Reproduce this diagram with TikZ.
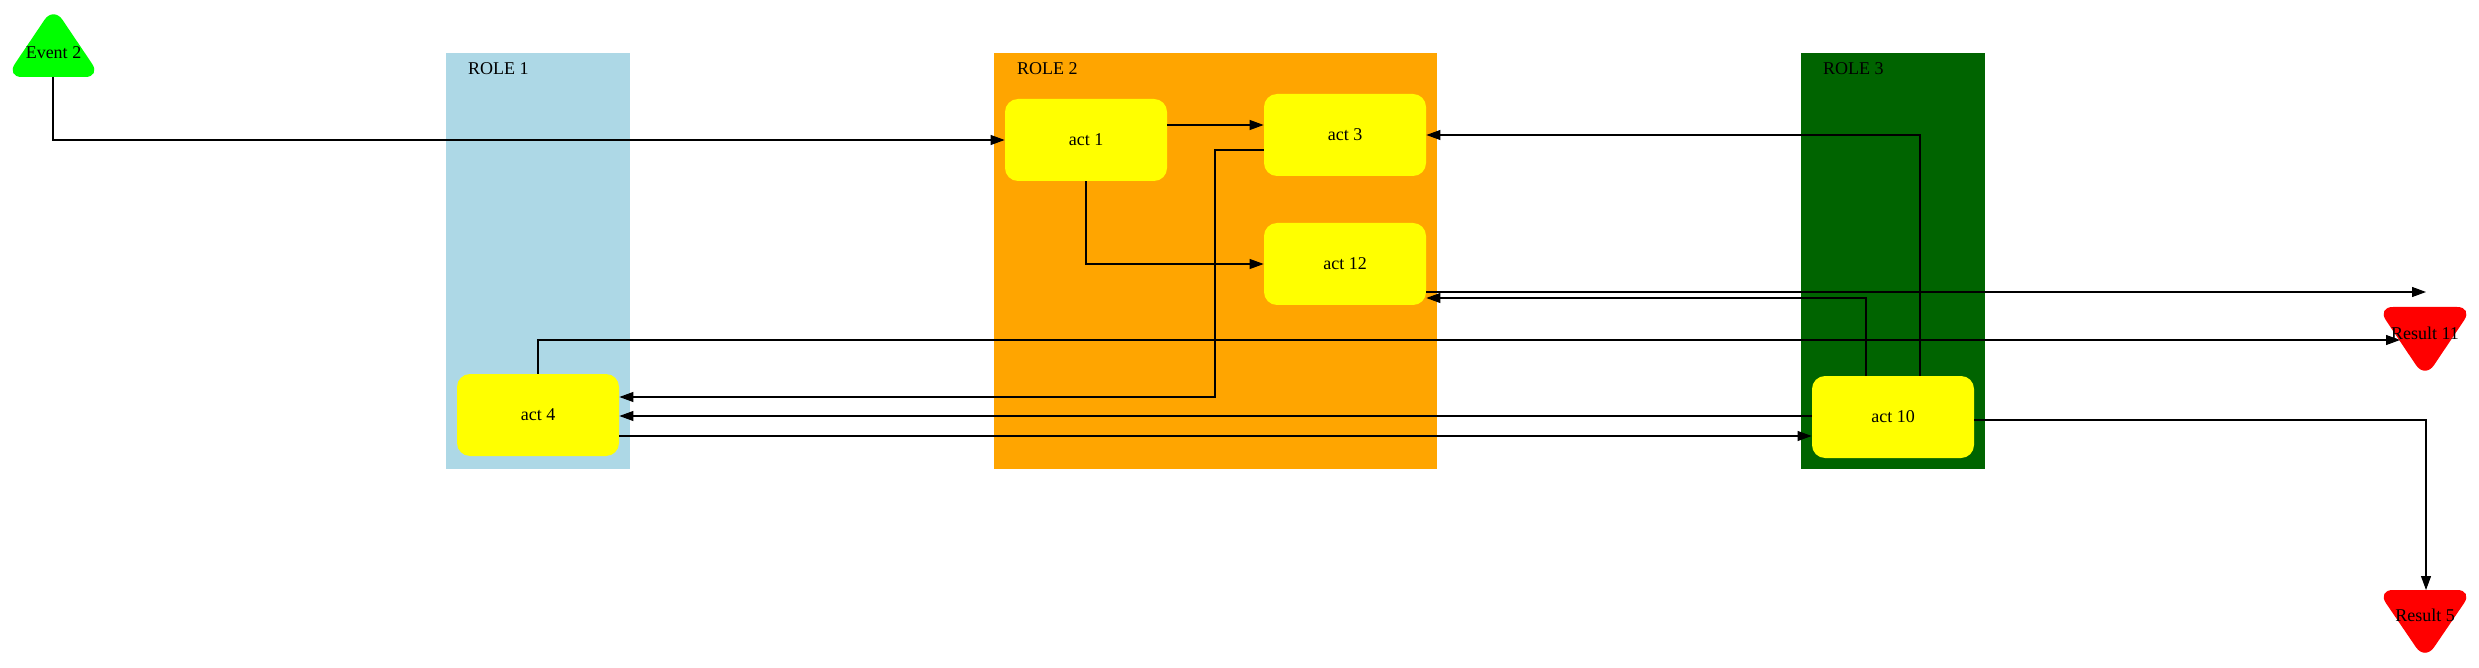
\documentclass[tikz,border=0pt]{standalone}
\usepackage{fontspec}
\setmainfont{Liberation Serif}
\usetikzlibrary{arrows.meta,fit}
\definecolor{lblue}{HTML}{ADD8E6}
\definecolor{orng}{HTML}{FFA500}
\definecolor{dgreen}{HTML}{006400}
\definecolor{gvgreen}{HTML}{00FF00}
\definecolor{gvyellow}{HTML}{FFFF00}
\definecolor{gvred}{HTML}{FF0000}
\tikzset{
  lane/.style={inner sep=0pt, draw=none},
  lanelabel/.style={anchor=west, inner sep=0pt, font=\fontsize{9}{11}\selectfont},
  act/.style={fill=gvyellow, rounded corners=6.5pt, minimum width=81pt, minimum height=41pt, inner sep=0pt, font=\fontsize{9}{11}\selectfont},
  lbl/.style={inner sep=0pt, font=\fontsize{9}{11}\selectfont},
  tri/.style={rounded corners=8pt},
  arr/.style={draw=black, line width=0.55pt, -{Triangle[length=7pt,width=5pt]}},
}
\begin{document}
\begin{tikzpicture}[x=0.5pt,y=-0.5pt]
\useasboundingbox (0,0) rectangle (2479,668);
% lanes
\node[lane, fill=lblue, fit={(446,53) (630,469)}] (r1) {};
\node[lane, fill=orng, fit={(994,53) (1437,469)}] (r2) {};
\node[lane, fill=dgreen, fit={(1801,53) (1985,469)}] (r3) {};
\node[lanelabel] (r1l) at ([shift={(22,16)}]r1.north west) {ROLE 1};
\node[lanelabel] (r2l) at ([shift={(23,16)}]r2.north west) {ROLE 2};
\node[lanelabel] (r3l) at ([shift={(22,16)}]r3.north west) {ROLE 3};
% event / results
\fill[gvgreen, tri] (6,77) -- (101,77) -- (53.5,6.5) -- cycle;
\node[lbl] (e2) at (53.5,53) {Event 2};
\coordinate (e2b) at (53,77);
\fill[gvred, tri] (2377,307) -- (2473,307) -- (2425,378.5) -- cycle;
\node[lbl] (r11) at (2425,333) {Result 11};
\coordinate (r11w) at (2400,340);
\coordinate (r11t) at (2426,292);
\fill[gvred, tri] (2377,590) -- (2473,590) -- (2425,660.5) -- cycle;
\node[lbl] (r5) at (2425,615) {Result 5};
\coordinate (r5n) at (2426,590);
% activities
\node[act] (act1) at (1086,140) {act 1};
\node[act] (act3) at (1345,135) {act 3};
\node[act] (act12) at (1345,264) {act 12};
\node[act] (act4) at (538,415) {act 4};
\node[act] (act10) at (1893,417) {act 10};
% edges
\draw[arr] (e2b) |- (act1.west);
\draw[arr] (act1.east |- 0,125) -- (act3.west |- 0,125);
\draw[arr] (act1.south) |- (act12.west);
\draw[arr] (act3.west |- 0,150) -| (1215,397) -- (act4.east |- 0,397);
\draw[arr] (act4.north) |- (r11w);
\draw[arr] (act10.west |- 0,416) -- (act4.east |- 0,416);
\draw[arr] (act4.east |- 0,436) -- (act10.west |- 0,436);
\draw[arr] (act10.north -| 1920,0) |- (act3.east);
\draw[arr] (act10.north -| 1866,0) |- (act12.east |- 0,298);
\draw[arr] (act12.east |- 0,292) -- (r11t);
\draw[arr] (act10.east |- 0,420) -| (r5n);
\end{tikzpicture}
\end{document}
